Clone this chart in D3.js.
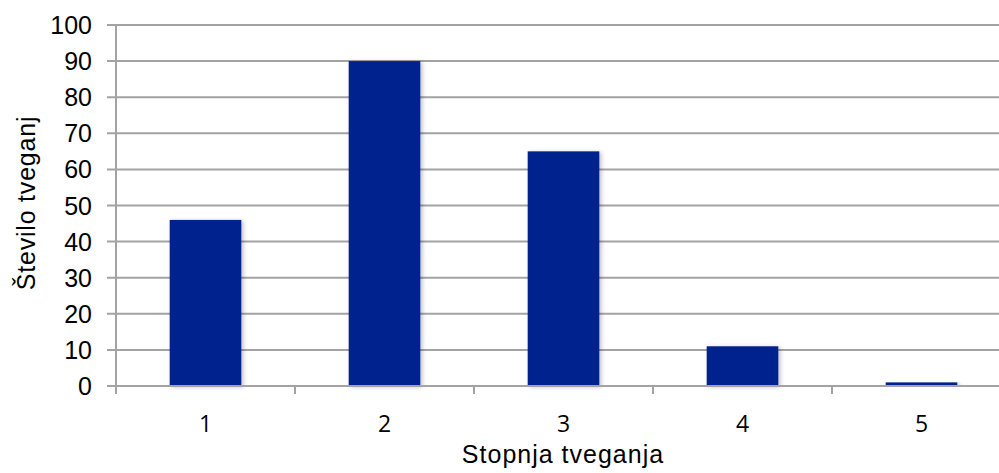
<!DOCTYPE html>
<html><head><meta charset="utf-8">
<script src="https://cdn.jsdelivr.net/npm/d3@7"></script>
<style>html,body{margin:0;padding:0;background:#fff;overflow:hidden}</style>
</head><body>
<svg id="c" width="999" height="473"></svg>
<script>
const categories = ["1","2","3","4","5"];
const values = [46, 90, 65, 11, 1];
const yTicks = [0,10,20,30,40,50,60,70,80,90,100];
const xTitle = "Stopnja tveganja";
const yTitle = "Število tveganj";

const svg = d3.select("#c");
const mLeft = 116, mTop = 25, mBottom = 386, mRight = 1011;
const x = d3.scaleBand().domain(categories).range([mLeft, mRight]).paddingInner(0.6).paddingOuter(0.3);
const y = d3.scaleLinear().domain([0,100]).range([mBottom, mTop]);

const defs = svg.append("defs");
const f = defs.append("filter").attr("id","sh").attr("x","-10%").attr("y","-10%").attr("width","130%").attr("height","130%");
f.append("feDropShadow").attr("dx",2).attr("dy",1).attr("stdDeviation",2).attr("flood-color","#000").attr("flood-opacity",0.25);

// gridlines
svg.append("g").selectAll("line").data(yTicks).join("line")
  .attr("x1", mLeft-9).attr("x2", 999)
  .attr("y1", d=>y(d)).attr("y2", d=>y(d))
  .attr("stroke","#a3a3a3").attr("stroke-width",2);

// y tick labels
svg.append("g").selectAll("text").data(yTicks).join("text")
  .attr("x", 92).attr("y", d=>y(d)).attr("dy","0.36em")
  .attr("text-anchor","end")
  .attr("font-family","Liberation Sans, Arial, sans-serif").attr("font-size",25)
  .attr("fill","#000").text(d=>d);

// bars
svg.append("g").selectAll("rect").data(values).join("rect")
  .attr("x",(d,i)=>x(categories[i])).attr("width",x.bandwidth())
  .attr("y",d=>y(d)).attr("height",d=>y(0)-y(d))
  .attr("fill","#00238f").attr("filter","url(#sh)");

// y axis line
svg.append("line").attr("x1",mLeft).attr("x2",mLeft).attr("y1",mTop).attr("y2",mBottom+8)
  .attr("stroke","#a3a3a3").attr("stroke-width",2);
// x axis line
svg.append("line").attr("x1",mLeft).attr("x2",999).attr("y1",mBottom).attr("y2",mBottom)
  .attr("stroke","#a3a3a3").attr("stroke-width",2);
// x ticks at band boundaries
const gap = (x.step()-x.bandwidth())/2;
svg.append("g").selectAll("line").data(categories.slice(1)).join("line")
  .attr("x1", c=>x(c) - gap).attr("x2", c=>x(c) - gap)
  .attr("y1", mBottom).attr("y2", mBottom+8)
  .attr("stroke","#a3a3a3").attr("stroke-width",2);

// x tick labels
svg.append("g").selectAll("text").data(categories).join("text")
  .attr("x", c=>x(c)+x.bandwidth()/2).attr("y", 432)
  .attr("text-anchor","middle")
  .attr("font-family","Open Sans, sans-serif").attr("font-size",23)
  .attr("fill","#000").text(c=>c);

// axis titles
svg.append("text").attr("x",563).attr("y",463).attr("text-anchor","middle")
  .attr("font-family","Liberation Sans, Arial, sans-serif").attr("font-size",25)
  .attr("letter-spacing","1px").attr("fill","#000").text(xTitle);
svg.append("text").attr("transform","translate(35,203) rotate(-90)").attr("text-anchor","middle")
  .attr("font-family","Liberation Sans, Arial, sans-serif").attr("font-size",25)
  .attr("letter-spacing","0.8px").attr("fill","#000").text(yTitle);
</script>
</body></html>
